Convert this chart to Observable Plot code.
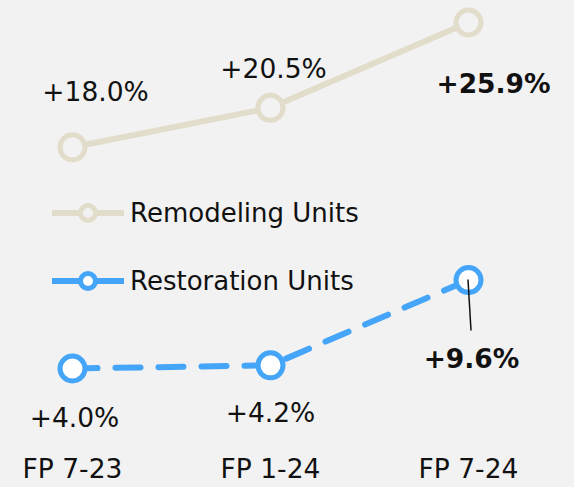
<!DOCTYPE html>
<html>
<head>
<meta charset="utf-8">
<script src="https://cdn.jsdelivr.net/npm/d3@7"></script>
<script src="https://cdn.jsdelivr.net/npm/@observablehq/plot@0.6"></script>
<style>
  html, body { margin: 0; padding: 0; background: #f2f2f2; }
  #chart svg { display: block; }
</style>
</head>
<body>
<div id="chart"></div>
<script>
const periods = ["FP 7-23", "FP 1-24", "FP 7-24"];
const remodeling = [18.0, 20.5, 25.9];
const restoration = [4.0, 4.2, 9.6];
const seriesNames = ["Remodeling Units", "Restoration Units"];

const beige = "#e2ddcb";
const blue = "#45a5f8";
const bg = "#f2f2f2";
const font = "DejaVu Sans, Verdana, sans-serif";
const fs = 26.5;

const remData = periods.map((p, i) => ({period: p, value: remodeling[i]}));
const resData = periods.map((p, i) => ({period: p, value: restoration[i]}));
const fmt = v => "+" + v.toFixed(1) + "%";

function label(d, opts) {
  return Plot.text([d], {x: "period", y: "value", text: d => fmt(d.value), fontSize: fs, fill: "#111", ...opts});
}

const chart = Plot.plot({
  width: 574,
  height: 487,
  marginTop: 22,
  marginBottom: 119,
  marginLeft: 72,
  marginRight: 106,
  style: {background: bg, fontFamily: font},
  x: {type: "point", domain: periods, padding: 0},
  y: {domain: [4.0, 25.9], axis: null},
  marks: [
    Plot.axisX({tickSize: 0, tickPadding: 91, fontSize: fs, label: null, fill: "#111"}),
    Plot.line(remData, {x: "period", y: "value", stroke: beige, strokeWidth: 6}),
    Plot.dot(remData, {x: "period", y: "value", r: 12.5, stroke: beige, strokeWidth: 5, fill: bg}),
    Plot.line(resData, {x: "period", y: "value", stroke: blue, strokeWidth: 6, strokeDasharray: "25,18"}),
    Plot.dot(resData, {x: "period", y: "value", r: 12.5, stroke: blue, strokeWidth: 5, fill: "white"}),
    label(remData[0], {dx: 23, dy: -55}),
    label(remData[1], {dx: 3, dy: -38}),
    label(remData[2], {dx: 25, dy: 62, fontWeight: "bold"}),
    label(resData[0], {dx: 2, dy: 50}),
    label(resData[1], {dx: 0, dy: 48}),
    label(resData[2], {dx: 3, dy: 79, fontWeight: "bold"})
  ]
});

document.getElementById("chart").appendChild(chart);

// leader line from the last restoration point down to its label
const svg = d3.select(chart);
const xs = chart.scale("x"), ys = chart.scale("y");
const lx = xs.apply(periods[2]), ly = ys.apply(restoration[2]);
svg.append("line")
  .attr("x1", lx).attr("y1", ly)
  .attr("x2", lx + 3).attr("y2", ly + 51)
  .attr("stroke", "#111").attr("stroke-width", 1.5);

// legend
const legend = svg.append("g").attr("font-family", font).attr("font-size", 26).attr("text-anchor", "start");
const items = [
  {name: seriesNames[0], color: beige, fill: bg, y: 213},
  {name: seriesNames[1], color: blue, fill: "white", y: 281}
];
items.forEach(it => {
  const g = legend.append("g").attr("transform", `translate(0,${it.y})`);
  g.append("line").attr("x1", 52).attr("x2", 124).attr("y1", 0).attr("y2", 0)
    .attr("stroke", it.color).attr("stroke-width", 6);
  g.append("circle").attr("cx", 88).attr("cy", 0).attr("r", 7.5)
    .attr("stroke", it.color).attr("stroke-width", 5).attr("fill", it.fill);
  g.append("text").attr("x", 130).attr("y", 0).attr("dy", "0.35em")
    .attr("text-anchor", "start").attr("fill", "#111").text(it.name);
});
</script>
</body>
</html>
